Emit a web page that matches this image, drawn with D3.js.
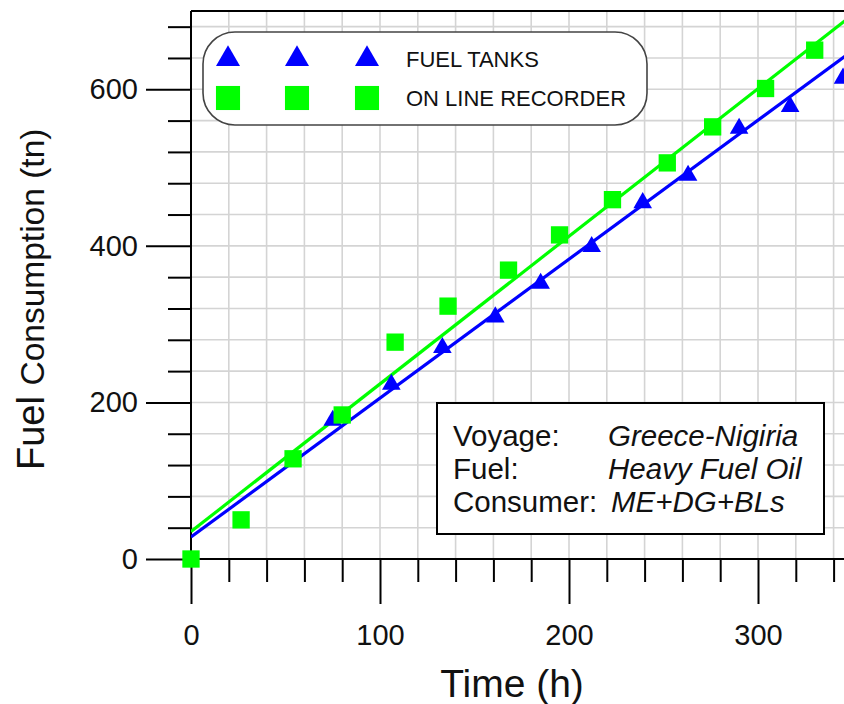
<!DOCTYPE html>
<html>
<head>
<meta charset="utf-8">
<script src="https://cdn.jsdelivr.net/npm/d3@7"></script>
<style>
  body { margin: 0; background: #fff; }
  svg { display: block; font-family: "Liberation Sans", Arial, sans-serif; }
</style>
</head>
<body>
<div id="chart"></div>
<script>
// data
var tanksTime = [75, 106, 133, 161, 185, 212, 239, 263, 290, 317, 345];
var tanksFuel = [177, 223, 270, 309, 352, 399, 455, 490, 550, 578, 614];
var recorderTime = [0, 26.5, 54, 80, 108, 136, 168, 195, 223, 252, 276, 304, 330];
var recorderFuel = [0, 50, 128, 184, 277, 323, 369, 414, 459, 506, 552, 601, 650];
// fitted lines, [time, fuel] end points
var tanksFit = [[0, 28], [360, 667]];
var recorderFit = [[0, 35], [360, 714]];
var xMajor = [0, 100, 200, 300];
var yMajor = [0, 200, 400, 600];
var legendNames = ["FUEL TANKS", "ON LINE RECORDER"];
var infoKeys = ["Voyage:", "Fuel:", "Consumer:"];
var infoValues = ["Greece-Nigiria", "Heavy Fuel Oil", "ME+DG+BLs"];

var width = 844, height = 704;
var blue = "#0000ff", green = "#00ff00", ink = "#111";

var x = d3.scaleLinear().domain([0, 360]).range([191, 191 + 360 * 1.89]);
var y = d3.scaleLinear().domain([0, 700]).range([559, 11]);

var svg = d3.select("#chart").append("svg")
    .attr("width", width)
    .attr("height", height);

svg.append("clipPath").attr("id", "plotclip")
  .append("rect")
    .attr("x", x(0)).attr("y", y(700))
    .attr("width", x(360) - x(0)).attr("height", y(0) - y(700));

// grid
var grid = svg.append("g").attr("stroke", "#d4d4d4").attr("stroke-width", 1.6);
grid.selectAll("line.v").data(d3.range(20, 361, 20)).enter().append("line")
    .attr("x1", function (d) { return x(d); }).attr("x2", function (d) { return x(d); })
    .attr("y1", y(0)).attr("y2", y(700));
grid.selectAll("line.h").data(d3.range(40, 700, 40)).enter().append("line")
    .attr("x1", x(0)).attr("x2", x(360))
    .attr("y1", function (d) { return y(d); }).attr("y2", function (d) { return y(d); });

// axes, ticks pointing out
var xMinor = d3.range(0, 361, 20).filter(function (d) { return d % 100 !== 0; });
var yMinor = d3.range(0, 700, 40).filter(function (d) { return d % 200 !== 0; });

var gx = svg.append("g").attr("transform", "translate(0," + y(0) + ")");
gx.call(d3.axisBottom(x).tickValues(xMinor).tickSize(23).tickFormat(""));
gx.call(function (g) {
  g.append("g").call(d3.axisBottom(x).tickValues(xMajor).tickSize(45).tickPadding(20).tickFormat(d3.format("d")));
});
var gy = svg.append("g").attr("transform", "translate(" + x(0) + ",0)");
gy.call(d3.axisLeft(y).tickValues(yMinor).tickSize(23).tickFormat(""));
gy.call(function (g) {
  g.append("g").call(d3.axisLeft(y).tickValues(yMajor).tickSize(45).tickPadding(8).tickFormat(d3.format("d")));
});
svg.selectAll(".domain").remove();
svg.selectAll(".tick line").attr("stroke", "#000").attr("stroke-width", 2);
svg.selectAll(".tick text").attr("fill", ink).style("font-size", "29px")
    .style("font-family", "'Liberation Sans', Arial, sans-serif");

// frame
svg.append("line").attr("x1", x(0)).attr("x2", x(0)).attr("y1", y(700)).attr("y2", y(0))
    .attr("stroke", "#000").attr("stroke-width", 2);
svg.append("line").attr("x1", x(0)).attr("x2", x(360)).attr("y1", y(0)).attr("y2", y(0))
    .attr("stroke", "#000").attr("stroke-width", 2);
svg.append("line").attr("x1", x(0)).attr("x2", x(360)).attr("y1", y(700)).attr("y2", y(700))
    .attr("stroke", "#000").attr("stroke-width", 2);

// fit lines
var line = d3.line().x(function (d) { return x(d[0]); }).y(function (d) { return y(d[1]); });
var plot = svg.append("g").attr("clip-path", "url(#plotclip)");
plot.append("path").attr("d", line(recorderFit)).attr("fill", "none")
    .attr("stroke", green).attr("stroke-width", 3.2);
plot.append("path").attr("d", line(tanksFit)).attr("fill", "none")
    .attr("stroke", blue).attr("stroke-width", 3.2);

// markers
var tri = d3.symbol().type(d3.symbolTriangle).size(150);
var sq = d3.symbol().type(d3.symbolSquare).size(300);
svg.append("g").selectAll("path").data(tanksTime).enter().append("path")
    .attr("d", tri)
    .attr("fill", blue)
    .attr("transform", function (d, i) { return "translate(" + x(d) + "," + y(tanksFuel[i]) + ")"; });
svg.append("g").selectAll("path").data(recorderTime).enter().append("path")
    .attr("d", sq)
    .attr("fill", green)
    .attr("transform", function (d, i) { return "translate(" + x(d) + "," + y(recorderFuel[i]) + ")"; });

// legend
var leg = svg.append("g");
leg.append("rect").attr("x", 203).attr("y", 32).attr("width", 444).attr("height", 93)
    .attr("rx", 32).attr("ry", 32)
    .attr("fill", "#fff").attr("stroke", "#444").attr("stroke-width", 1.6);
var legMarks = [
  { sym: d3.symbol().type(d3.symbolTriangle).size(250), color: blue, cy: 59 },
  { sym: d3.symbol().type(d3.symbolSquare).size(580), color: green, cy: 98 }
];
legMarks.forEach(function (m, j) {
  [228, 297, 367].forEach(function (cx) {
    leg.append("path").attr("d", m.sym).attr("fill", m.color)
        .attr("transform", "translate(" + cx + "," + m.cy + ")");
  });
  leg.append("text").attr("x", 406).attr("y", m.cy + 8)
      .attr("fill", ink).style("font-size", "22px")
      .text(legendNames[j]);
});

// info box
var info = svg.append("g");
info.append("rect").attr("x", 437).attr("y", 403).attr("width", 387).attr("height", 131)
    .attr("fill", "#fff").attr("stroke", "#000").attr("stroke-width", 2);
infoKeys.forEach(function (k, i) {
  info.append("text").attr("x", 453).attr("y", 446 + i * 33)
      .attr("fill", ink).style("font-size", "29.5px").text(k);
  info.append("text").attr("x", i === 2 ? 611 : 608).attr("y", 446 + i * 33)
      .attr("fill", ink).style("font-size", "29.5px").style("font-style", "italic")
      .text(infoValues[i]);
});

// axis titles
svg.append("text").attr("x", 512).attr("y", 697).attr("text-anchor", "middle")
    .attr("fill", ink).style("font-size", "39px").text("Time (h)");
var yt = svg.append("text").attr("transform", "translate(44,470) rotate(-90)")
    .attr("fill", ink);
yt.append("tspan").style("font-size", "38px").text("Fuel ");
yt.append("tspan").style("font-size", "33.5px").text("Consumption (tn)");
</script>
</body>
</html>
